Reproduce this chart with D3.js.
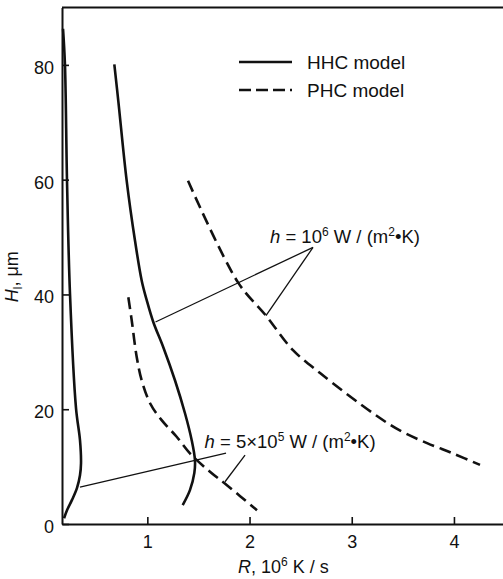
<!DOCTYPE html>
<html>
<head>
<meta charset="utf-8">
<script src="https://cdn.jsdelivr.net/npm/d3@7"></script>
<style>
  body { margin: 0; background: #fff; }
  svg { display: block; }
  text { font-family: "Liberation Sans", Arial, sans-serif; fill: #111; }
</style>
</head>
<body>
<div id="plot"></div>
<script>
const svgWidth = 503;
const svgHeight = 579;

// curves, [R (10^6 K/s), H (um)]
const hhcLow = [[0.175, 86.3], [0.194, 80], [0.214, 59.8], [0.243, 40.2], [0.302, 20.2], [0.341, 14.6],
                [0.351, 10.6], [0.341, 8.5], [0.312, 6.3], [0.263, 4.2], [0.214, 2.4], [0.185, 1.0]];
const hhcHigh = [[0.677, 80.1], [0.716, 73.7], [0.798, 59.8], [0.879, 49.4], [0.945, 42.4], [0.994, 39.0],
                 [1.058, 35.2], [1.156, 30.8], [1.271, 25.0], [1.369, 19.25], [1.434, 14.6], [1.466, 11.1],
                 [1.46, 8.9], [1.417, 5.9], [1.346, 3.3]];
const phcLow = [[0.814, 39.5], [0.847, 35.5], [0.896, 29.1], [0.945, 25.0], [1.028, 21.0], [1.14, 18.1],
                [1.287, 15.2], [1.417, 12.3], [1.613, 9.1], [1.776, 6.8], [2.073, 2.4]];
const phcHigh = [[1.398, 59.8], [1.887, 42.1], [2.161, 36.3], [2.425, 30.3], [2.69, 26.3], [3.208, 19.3],
                 [3.47, 16.3], [3.737, 14.1], [3.99, 12.3], [4.255, 10.3]];

const xTicks = [1, 2, 3, 4];
const yTicks = [0, 20, 40, 60, 80];

// leader lines, [from, to] in data units
const leaders1e6 = [[[2.621, 48.2], [1.08, 35.2]], [[2.621, 48.2], [2.161, 36.3]]];
const leaders5e5 = [[[1.770, 12.35], [0.341, 6.43]], [[1.956, 12.0], [1.760, 7.36]]];

const margin = {top: 7.5, right: 0, bottom: 55, left: 62};
const w = svgWidth - margin.left - margin.right;
const h = svgHeight - margin.top - margin.bottom;

var svg = d3.select("#plot")
  .append("svg")
  .attr("width", svgWidth)
  .attr("height", svgHeight)
  .append("g")
  .attr("transform", "translate(" + margin.left + "," + margin.top + ")");

var x = d3.scaleLinear().domain([0.165, 4.48]).range([0, w]);
var y = d3.scaleLinear().domain([0, 90]).range([h, 0]);

// axes, ticks pointing inwards
var xAxis = svg.append("g")
  .attr("transform", "translate(0," + h + ")")
  .call(d3.axisBottom(x).tickValues(xTicks).tickFormat(d3.format("d"))
    .tickSizeInner(-7).tickSizeOuter(0).tickPadding(11));

var yAxis = svg.append("g")
  .call(d3.axisLeft(y).tickValues(yTicks).tickFormat(d3.format("d"))
    .tickSizeInner(-7).tickSizeOuter(0).tickPadding(8));

[xAxis, yAxis].forEach(function (a) {
  a.select(".domain").attr("stroke", "#111").attr("stroke-width", 2);
  a.selectAll(".tick line").attr("stroke", "#111").attr("stroke-width", 1.6);
  a.selectAll(".tick text").attr("font-size", 18).attr("fill", "#111")
    .style("font-family", "'Liberation Sans', Arial, sans-serif");
});
yAxis.selectAll(".tick text").attr("dy", "0.47em");

// top frame line
svg.append("line")
  .attr("x1", 0).attr("x2", w)
  .attr("y1", 0).attr("y2", 0)
  .attr("stroke", "#111").attr("stroke-width", 2);

// axis titles
var xt = svg.append("text")
  .attr("x", 176)
  .attr("y", h + 49)
  .attr("font-size", 18);
xt.append("tspan").attr("font-style", "italic").text("R");
xt.append("tspan").text(", 10");
xt.append("tspan").attr("font-size", 12).attr("dy", -7).text("6");
xt.append("tspan").attr("dy", 7).text(" K / s");

var yt = svg.append("text")
  .attr("transform", "translate(-44," + (y(43) + 25) + ") rotate(-90)")
  .attr("font-size", 18);
yt.append("tspan").attr("font-style", "italic").text("H");
yt.append("tspan").attr("font-size", 12).attr("dy", 4).text("l");
yt.append("tspan").attr("dy", -4).text(", μm");

// curves
var line = d3.line()
  .x(function (d) { return x(d[0]); })
  .y(function (d) { return y(d[1]); })
  .curve(d3.curveCatmullRom.alpha(0.5));

var curves = [
  {data: hhcLow, dash: null},
  {data: hhcHigh, dash: null},
  {data: phcLow, dash: "12,6"},
  {data: phcHigh, dash: "12,6"}
];

svg.selectAll(".curve")
  .data(curves)
  .enter()
  .append("path")
    .attr("class", "curve")
    .attr("d", function (d) { return line(d.data); })
    .attr("fill", "none")
    .attr("stroke", "#111")
    .attr("stroke-width", 2.6)
    .attr("stroke-dasharray", function (d) { return d.dash; });

// leader lines
svg.selectAll(".leader")
  .data(leaders1e6.concat(leaders5e5))
  .enter()
  .append("line")
    .attr("class", "leader")
    .attr("x1", function (d) { return x(d[0][0]); })
    .attr("y1", function (d) { return y(d[0][1]); })
    .attr("x2", function (d) { return x(d[1][0]); })
    .attr("y2", function (d) { return y(d[1][1]); })
    .attr("stroke", "#111")
    .attr("stroke-width", 1.3);

// annotations
function hLabel(rx, hy, mant) {
  var t = svg.append("text")
    .attr("x", x(rx))
    .attr("y", y(hy))
    .attr("font-size", 18.5);
  t.append("tspan").attr("font-style", "italic").text("h");
  t.append("tspan").text(" = " + mant + "10");
  t.append("tspan").attr("font-size", 12).attr("dy", -7).text(mant ? "5" : "6");
  t.append("tspan").attr("dy", 7).text(" W / (m");
  t.append("tspan").attr("font-size", 12).attr("dy", -7).text("2");
  t.append("tspan").attr("dy", 7).text("•K)");
}
hLabel(2.20, 49.0, "");
hLabel(1.56, 13.2, "5×");

// legend
var legend = svg.append("g")
  .attr("transform", "translate(" + (239 - margin.left) + "," + (62 - margin.top) + ")");

legend.selectAll("line")
  .data([null, "12,5"])
  .enter()
  .append("line")
    .attr("x1", 0).attr("x2", 53)
    .attr("y1", function (d, i) { return i * 28; })
    .attr("y2", function (d, i) { return i * 28; })
    .attr("stroke", "#111")
    .attr("stroke-width", 2.6)
    .attr("stroke-dasharray", function (d) { return d; });

legend.selectAll("text")
  .data(["HHC model", "PHC model"])
  .enter()
  .append("text")
    .attr("x", 68)
    .attr("y", function (d, i) { return i * 28 + 6.5; })
    .attr("font-size", 19)
    .text(function (d) { return d; });
</script>
</body>
</html>
